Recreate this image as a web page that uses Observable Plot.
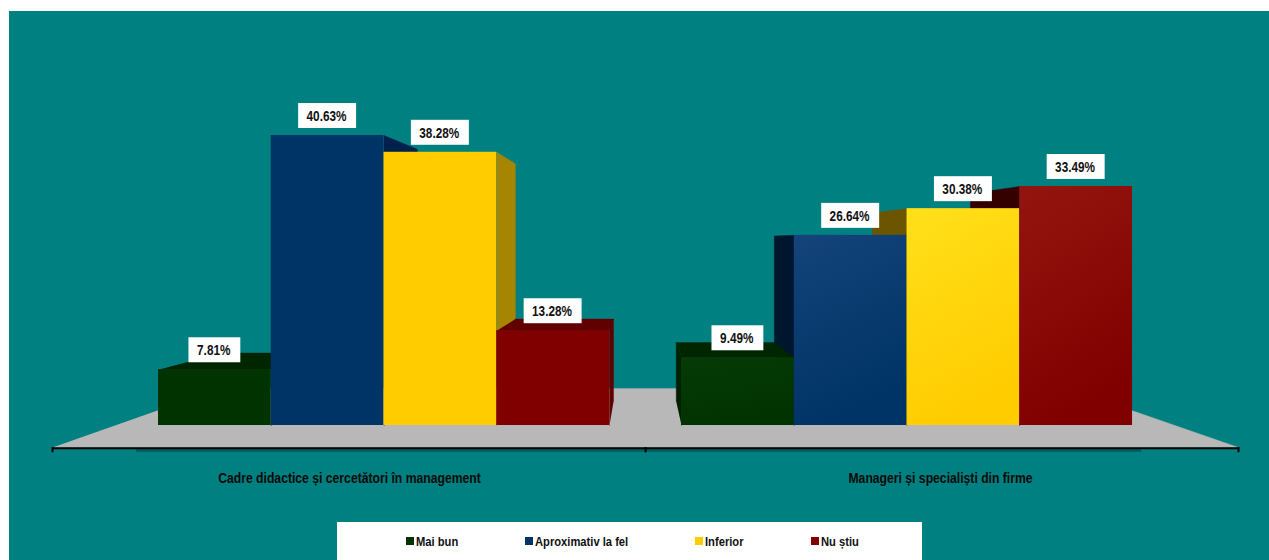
<!DOCTYPE html>
<html lang="ro">
<head>
<meta charset="utf-8">
<title>Cadre didactice și manageri</title>
<script src="https://cdn.jsdelivr.net/npm/d3@7"></script>
<script src="https://cdn.jsdelivr.net/npm/@observablehq/plot@0.6"></script>
<style>
  html, body { margin: 0; height: 560px; overflow: hidden; background: #fff; }
  #panel { position: absolute; left: 9px; top: 11px; width: 1260px; height: 549px; background: #008080; overflow: hidden; }
  #legend {
    margin-left: 328px; width: 585px; height: 38px; box-sizing: border-box; padding-left: 69px;
    background: #fff; display: grid; grid-template-columns: 119px 170px 116px 1fr; align-items: center;
    font: bold 13px "Liberation Sans", sans-serif; color: #111;
  }
  #legend span.item { display: flex; align-items: center; gap: 1.5px; }
  #legend i { width: 8px; height: 8px; display: block; }
  #legend b { display: block; white-space: nowrap; transform: scaleX(0.86); transform-origin: left center; }
</style>
</head>
<body>
<div id="panel"><div id="plot"></div><div id="legend"></div></div>
<script>
// Survey answers, in percent, one array per respondent group
const groups = ["Cadre didactice și cercetători în management", "Manageri și specialiști din firme"];
const series = ["Mai bun", "Aproximativ la fel", "Inferior", "Nu știu"];
const teachers = [7.81, 40.63, 38.28, 13.28];
const managers = [9.49, 26.64, 30.38, 33.49];

// Colours per series
const solid = ["#003300", "#003366", "#ffcc00", "#800000"];
const lightTop = ["#063a06", "#14447a", "#ffe01a", "#94150f"];
const sideLeftGroup = ["#002200", "#00214c", "#a68600", "#600000"];
const sideRightGroup = ["#002000", "#00152e", "#6b5500", "#350000"];
const topFace = ["#002600", "#002244", "#a68600", "#600000"];

// The x axis counts bar widths from the first bar; the y axis is the percent value.
const groupStart = [0, 4.639];
const axisTicks = [-0.94, 4.32, 9.579];
const axisShadow = [-0.195, 8.72];
const groupLabelX = [1.694, 6.936];
const floorFrontY = -3.08;
const floorBackY = 5.18;
const labelY = -7.43;

// Perspective used for the box depth
const vanish = {x: 4.275, y: 25.92};
const depth = 0.13;
const recede = ([x, y]) => [x + (vanish.x - x) * depth, y + (vanish.y - y) * depth];

// Back corner of the floor for a front corner at x
function floorBack(x) {
  const t = (floorBackY - floorFrontY) / (vanish.y - floorFrontY);
  return [x + (vanish.x - x) * t, floorBackY];
}

const polygon = (corners, fill) =>
  Plot.line(corners.map(([x, y]) => ({x, y})), {x: "x", y: "y", fill, stroke: fill, strokeWidth: 0.4});

const face = (a, b, fill) => polygon([a, b, recede(b), recede(a)], fill);

// Slanted faces of one box: the side turned toward the centre, and the top when seen from above
function boxFaces(g, i) {
  const v = (g === 0 ? teachers : managers)[i];
  const x0 = groupStart[g] + i;
  const x1 = x0 + 1;
  const out = [];
  const sideX = g === 0 ? x1 : x0;
  out.push(face([sideX, 0], [sideX, v], (g === 0 ? sideLeftGroup : sideRightGroup)[i]));
  if (v < vanish.y) out.push(face([x0, v], [x1, v], topFace[i]));
  return out;
}

function boxFront(g, i) {
  const v = (g === 0 ? teachers : managers)[i];
  const x1 = groupStart[g] + i;
  const fill = g === 0 ? solid[i] : `url(#front-${i})`;
  return Plot.rect([{v}], {x1: () => x1, x2: () => x1 + 1, y1: () => 0, y2: "v", fill});
}

const valueLabels = groups.flatMap((_, g) =>
  (g === 0 ? teachers : managers).map((v, i) => ({
    cx: groupStart[g] + i + 0.5,
    value: v,
    text: `${v.toFixed(2)}%`
  }))
);

const plateHalf = (d) => (d.value < 10 ? 0.23 : 0.257);

const gradients = () => {
  const defs = d3.create("svg:defs");
  solid.forEach((c, i) => {
    const g = defs.append("linearGradient").attr("id", `front-${i}`)
      .attr("x1", 0).attr("y1", 0).attr("x2", 0.3).attr("y2", 1);
    g.append("stop").attr("offset", 0).attr("stop-color", lightTop[i]);
    g.append("stop").attr("offset", 1).attr("stop-color", c);
  });
  return defs.node();
};

const font = '"Liberation Sans", sans-serif';

const chart = Plot.plot({
  width: 1260,
  height: 511,
  margin: 0,
  axis: null,
  style: {background: "transparent"},
  x: {domain: [0, 1], range: [149, 261.75]},
  y: {domain: [0, 40.63], range: [414, 124]},
  marks: [
    gradients,
    // Floor under both groups
    polygon([
      [axisTicks[0], floorFrontY],
      [axisTicks[2], floorFrontY],
      floorBack(axisTicks[2]),
      floorBack(axisTicks[0])
    ], "#b8b8b8"),
    // Axis with its shadow and ticks
    Plot.ruleY([floorFrontY - 0.42], {x1: () => axisShadow[0], x2: () => axisShadow[1], stroke: "#005f60", strokeWidth: 3}),
    Plot.ruleY([floorFrontY - 0.12], {x1: () => axisTicks[0], x2: () => axisTicks[2], stroke: "#050505", strokeWidth: 2}),
    Plot.ruleX(axisTicks, {y1: floorFrontY, y2: floorFrontY - 0.75, stroke: "#050505", strokeWidth: 2}),
    // Boxes are painted from the outside in, then all the fronts on top
    ...[0, 1, 2, 3].flatMap((i) => boxFaces(0, i)),
    ...[3, 2, 1, 0].flatMap((i) => boxFaces(1, i)),
    ...[0, 1, 2, 3].flatMap((i) => [boxFront(0, i), boxFront(1, i)]),
    // Value labels on white plates
    Plot.rect(valueLabels, {
      x1: (d) => d.cx - plateHalf(d),
      x2: (d) => d.cx + plateHalf(d),
      y1: (d) => d.value + 0.98,
      y2: (d) => d.value + 4.48,
      fill: "#fff"
    }),
    Plot.text(valueLabels, {
      x: (d) => d.cx - 0.01,
      y: (d) => d.value + 2.68,
      text: "text",
      fill: "#111",
      fontSize: 14,
      fontWeight: "bold",
      fontFamily: font
    }),
    // Group names
    Plot.text(groups, {
      x: (_, i) => groupLabelX[i],
      y: () => labelY,
      text: (d) => d,
      fill: "#0a0a0a",
      fontSize: 14,
      fontWeight: "bold",
      fontFamily: font
    })
  ]
});

document.getElementById("plot").append(chart);

// Condense the bold face, since no narrow cut is available
chart.querySelectorAll("text").forEach((t) => {
  const squeeze = t.textContent.endsWith("%") ? 0.84 : 0.87;
  t.setAttribute("textLength", t.getComputedTextLength() * squeeze);
  t.setAttribute("lengthAdjust", "spacingAndGlyphs");
});

const legend = d3.select("#legend");
series.forEach((name, i) => {
  const item = legend.append("span").attr("class", "item");
  item.append("i").style("background", solid[i]);
  item.append("b").text(name);
});
</script>
</body>
</html>
